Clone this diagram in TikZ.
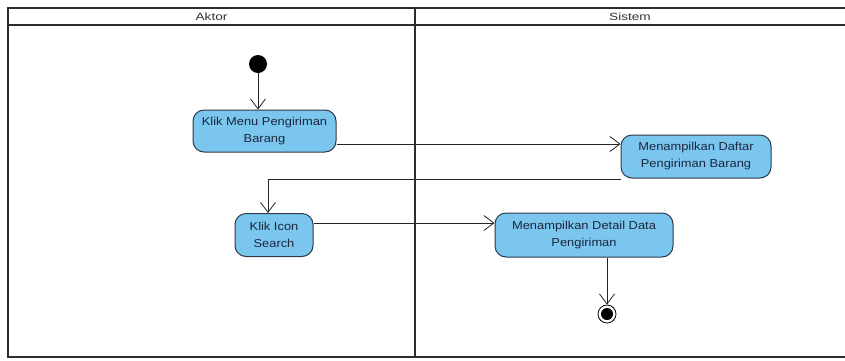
\documentclass[tikz,border=0pt]{standalone}
\usepackage{fontspec}
\setmainfont{Liberation Sans}
\newfontfamily\widesans[FakeStretch=1.12]{Liberation Sans}
\newfontfamily\headsans[FakeStretch=1.3]{Liberation Sans}
\usetikzlibrary{arrows.meta}
\definecolor{actfill}{RGB}{122,198,238}
\definecolor{actline}{RGB}{45,58,72}
\definecolor{acttext}{RGB}{28,38,62}
\definecolor{frameline}{RGB}{45,45,45}
\tikzset{
  lane/.style={draw=frameline, line width=1.6pt},
  action/.style={draw=actline, line width=1pt, fill=actfill, rounded corners=11pt,
    align=center, inner sep=2pt, font=\widesans\fontsize{11.5}{17}\selectfont, text=acttext},
  flow/.style={draw=black!85, line width=0.8pt, -{Straight Barb[length=10pt,width=15pt,line width=0.8pt]}},
  lanehead/.style={font=\headsans\fontsize{10.5}{11}\selectfont, text=black!80}
}
\begin{document}
\begin{tikzpicture}[x=1pt,y=-1pt]
  \useasboundingbox (0,0) rectangle (845,360);
  \fill[white] (0,0) rectangle (845,360);

  % swimlane frame
  \begin{scope}
    \clip (0,0) rectangle (845,360);
    \draw[lane] (8,8) rectangle (848,357);
    \draw[lane] (8,25) -- (848,25);
    \draw[lane] (415,8) -- (415,357);
  \end{scope}
  \node[lanehead] (laneA) at (211.5,16.5) {Aktor};
  \node[lanehead] (laneS) at (630,16.5) {Sistem};

  % start and end markers
  \node[circle, fill=black, minimum size=18pt, inner sep=0pt] (start) at (258,64) {};
  \node[circle, draw=black, line width=0.8pt, fill=white, minimum size=18pt, inner sep=0pt] (stop) at (607,314) {};
  \node[circle, fill=black, minimum size=12pt, inner sep=0pt] (stopdot) at (607,314) {};

  % actions
  \node[action, minimum width=143pt, minimum height=42pt] (km) at (264.5,131) {Klik Menu Pengiriman\\Barang};
  \node[action, minimum width=150pt, minimum height=43pt] (daftar) at (696,156.5) {Menampilkan Daftar\\Pengiriman Barang};
  \node[action, minimum width=78pt, minimum height=43pt] (ki) at (274,235) {Klik Icon\\Search};
  \node[action, minimum width=178pt, minimum height=44pt] (det) at (584,235) {Menampilkan Detail Data\\Pengiriman};

  % control flows
  \draw[flow] (start) -- (start |- km.north);
  \draw[flow] ([yshift=-13pt]km.east) -- ([yshift=-13pt]km.east -| daftar.west);
  \draw[flow] ([yshift=-1pt]daftar.south west) -| ([xshift=-6pt]ki.north);
  \draw[flow] ([yshift=12pt]ki.east) -- ([yshift=12pt]ki.east -| det.west);
  \draw[flow] ([xshift=23pt]det.south) -- (stop);
\end{tikzpicture}
\end{document}
